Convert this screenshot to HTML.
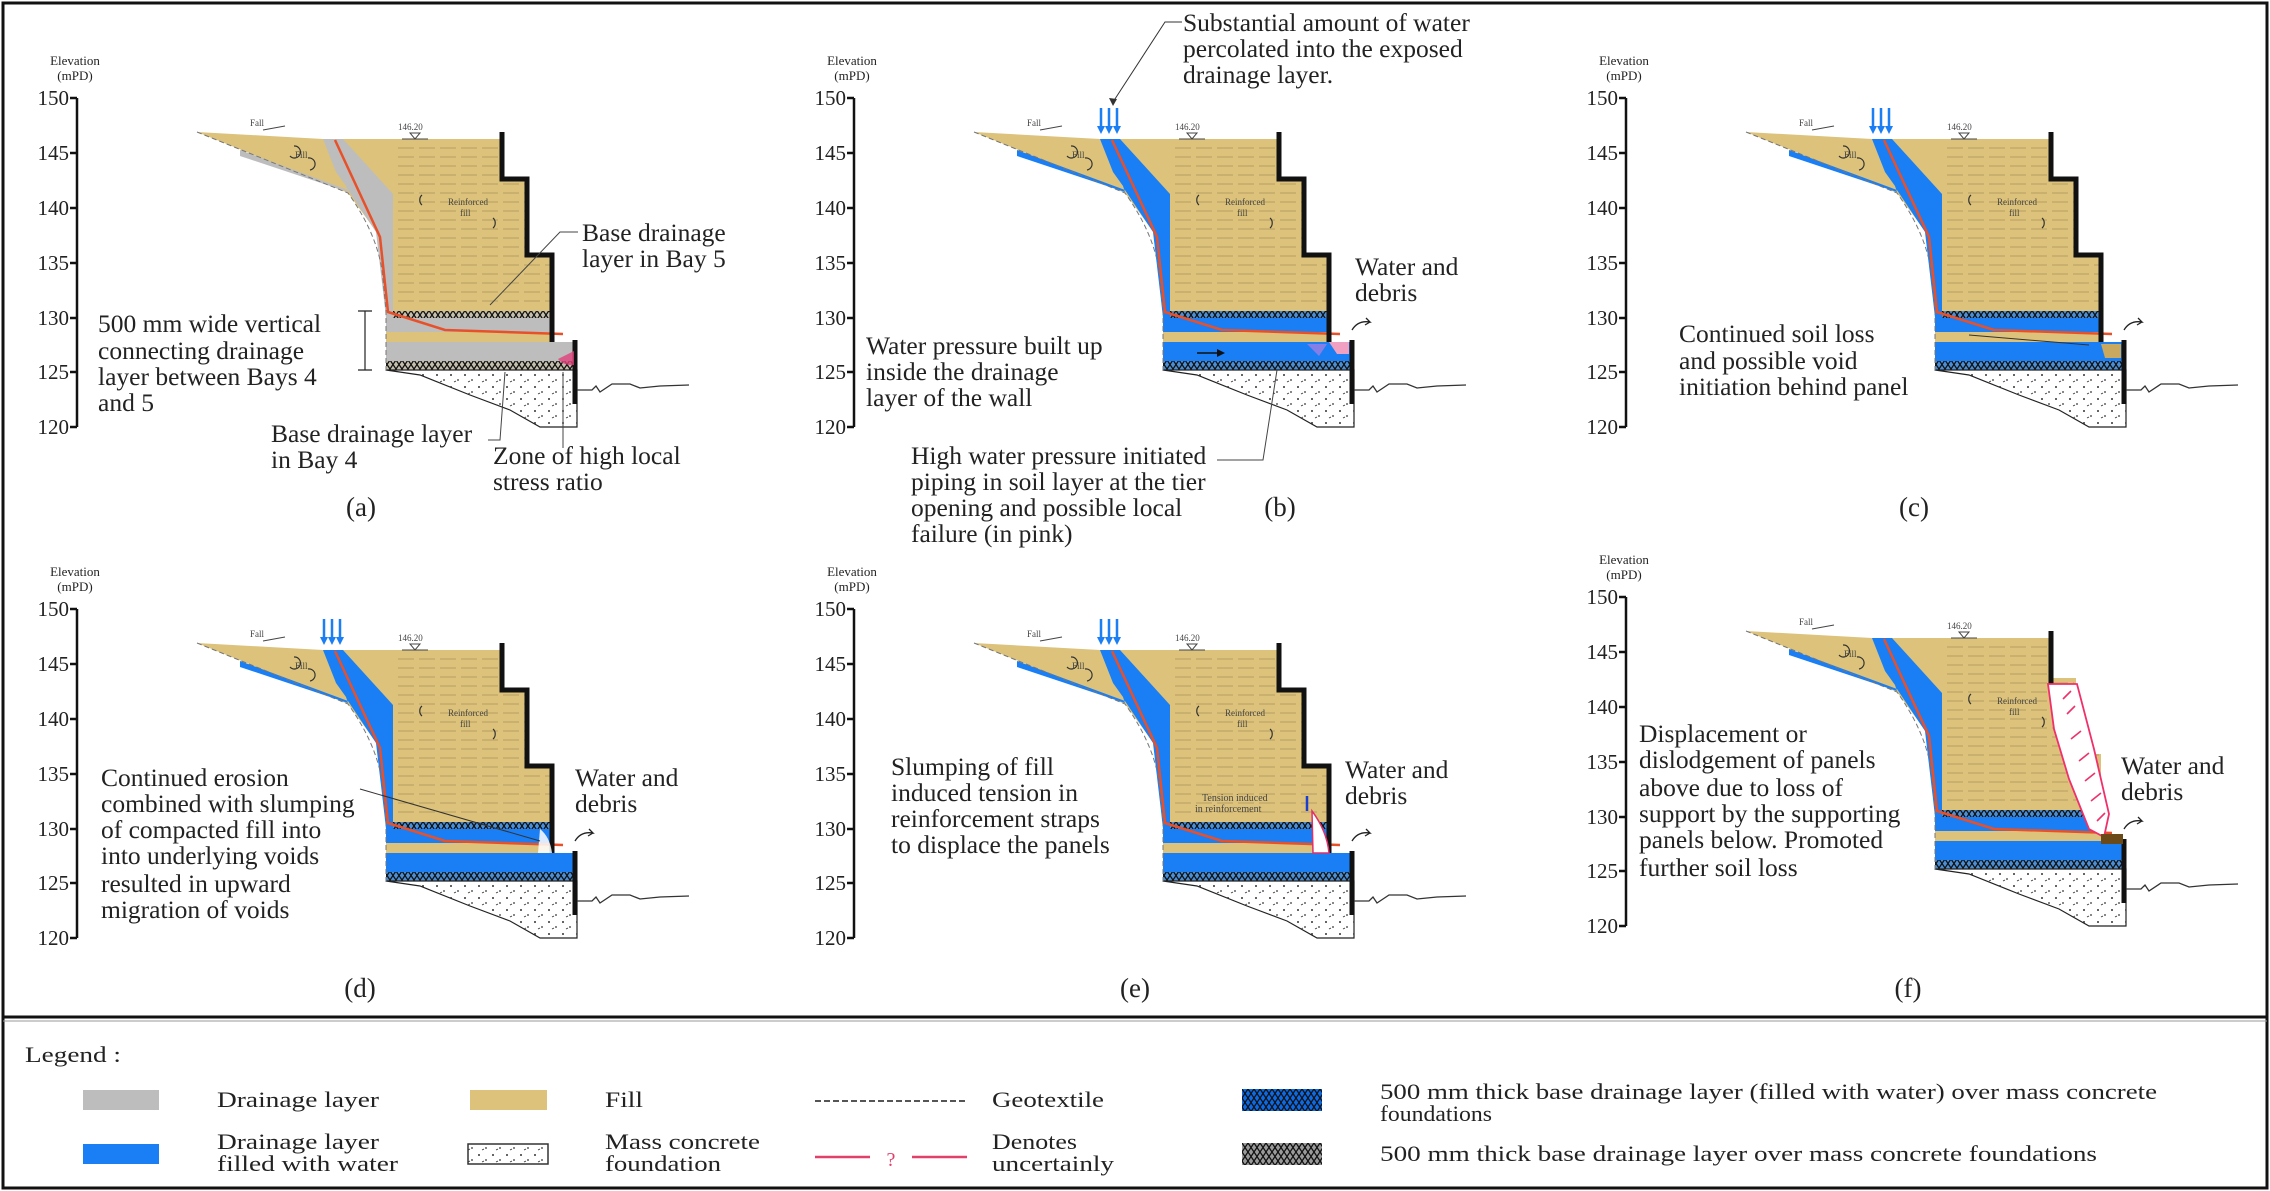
<!DOCTYPE html>
<html><head><meta charset="utf-8"><style>
html,body{margin:0;padding:0;background:#fff}
svg{display:block}
text{font-family:"Liberation Serif",serif;fill:#222}
.an{font-size:25.5px}
.tk{font-size:21px;text-anchor:end}
.el{font-size:13px;text-anchor:middle}
.sm{font-size:9px;fill:#444}
.pl{font-size:27px;text-anchor:middle}
.lg{font-size:22px}
</style></head><body>
<svg width="2270" height="1191" viewBox="0 0 2270 1191" xmlns="http://www.w3.org/2000/svg">
<defs>
<pattern id="hx" width="12" height="9" patternUnits="userSpaceOnUse">
<path d="M0,0 L6,9 L12,0 M0,9 L6,0 L12,9" stroke="#111" stroke-width="1.3" fill="none"/>
</pattern>
<pattern id="dots" width="14" height="12" patternUnits="userSpaceOnUse">
<circle cx="3" cy="3" r="1" fill="#333"/><circle cx="10" cy="8" r="0.9" fill="#333"/><path d="M6,10 l2,-1" stroke="#333" stroke-width="0.8"/>
</pattern>
<g id="base">
<polygon points="197,132 323,139 502,139 502,179 527,179 527,255 552,255 552,342 575,342 575,370 386,370 386,310 378,234 348,193" fill="#dcc27a"/>
<polygon points="240,150 348,190 376,232 384,300 386,318 393,318 393,194 343,139 323,139 336,172 346,186 348,192 240,156" fill="currentColor"/>
<rect x="386" y="318" width="166" height="14" fill="currentColor"/>
<rect x="386" y="342" width="189" height="19" fill="currentColor"/>
<rect x="393" y="311" width="159" height="7" fill="currentColor" opacity="0.75"/>
<rect x="393" y="311" width="159" height="7" fill="url(#hx)"/>
<rect x="386" y="361" width="189" height="9" fill="currentColor" opacity="0.75"/>
<rect x="386" y="361" width="189" height="9" fill="url(#hx)"/>
<polygon points="386,370 420,375 470,395 510,410 540,427 577,427 577,370" fill="#fff" stroke="#222" stroke-width="1.2"/>
<polygon points="386,370 420,375 470,395 510,410 540,427 577,427 577,370" fill="url(#dots)"/>
<g stroke="#a89058" stroke-width="1" stroke-dasharray="16 5" opacity="0.7">
<path d="M398,148H500M398,157H500M398,166H500M398,175H500M398,184H525M398,193H525M398,202H525M398,211H525M398,220H525M398,229H525M398,238H525M398,247H525M398,256H550M398,265H550M398,274H550M398,283H550M398,292H550M398,301H550"/>
</g>
<path d="M197,132 L348,193 Q376,232 382,270 L386,310 V372" fill="none" stroke="#777" stroke-width="1" stroke-dasharray="5 3"/>
<path d="M335,140 L380,237 L388,312 L445,330 L563,334" fill="none" stroke="#e8502a" stroke-width="2.5"/>
<path d="M575,340 V404" stroke="#111" stroke-width="5"/>
<path d="M577,390 L592,390 L596,386 L600,392 L612,384 L630,384 L640,388 L660,386 L689,385" fill="none" stroke="#333" stroke-width="1.3"/>
<path d="M77,98 V427 M70,98H77 M70,153H77 M70,208H77 M70,263H77 M70,318H77 M70,372H77 M70,427H77" stroke="#111" stroke-width="2.5" fill="none"/>
<path d="M263,130 L285,126" stroke="#444" stroke-width="1"/>
<path d="M402,139 H428 M410,133 L420,133 L415,139Z" stroke="#444" stroke-width="1" fill="none"/>
<path d="M290,156 a6,6 0 1,0 4,-10 M310,170 a5,5 0 0,0 -2,-12" stroke="#333" fill="none" stroke-width="1.2"/>
<path d="M422,195 a5,6 0 0,0 0,10 M493,218 a5,6 0 0,1 0,10" stroke="#333" fill="none" stroke-width="1.2"/>
</g>
<g id="tx">
<text class="el" x="75" y="65">Elevation</text><text class="el" x="75" y="80">(mPD)</text>
<text class="tk" x="69" y="105">150</text><text class="tk" x="69" y="160">145</text><text class="tk" x="69" y="215">140</text><text class="tk" x="69" y="270">135</text><text class="tk" x="69" y="325">130</text><text class="tk" x="69" y="379">125</text><text class="tk" x="69" y="434">120</text>
<text class="sm" x="250" y="126">Fall</text><text class="sm" x="398" y="130">146.20</text>
<text class="sm" x="295" y="158">Fill</text>
<text class="sm" x="448" y="205">Reinforced</text><text class="sm" x="460" y="216">fill</text>
</g>
<path id="wall" d="M502,132 V179 H527 V255 H552 V342" stroke="#111" stroke-width="5" fill="none"/>
<g id="arr" stroke="#1a7ef5" stroke-width="2.5" fill="#1a7ef5">
<path d="M324,108V128 M332,108V128 M340,108V128"/>
<path d="M320,126 L324,134 L328,126Z M328,126 L332,134 L336,126Z M336,126 L340,134 L344,126Z" stroke="none"/>
</g>
<path id="wd" d="M575,330 q6,-10 18,-8 l-4,-4 M593,322 l-5,3" stroke="#222" stroke-width="1.3" fill="none"/>
</defs>

<rect x="3" y="3" width="2264" height="1185" fill="none" stroke="#111" stroke-width="3"/>
<line x1="3" y1="1017" x2="2267" y2="1017" stroke="#111" stroke-width="3"/>
<line x1="3" y1="1021" x2="2267" y2="1021" stroke="#999" stroke-width="1"/>

<!-- (a) -->
<g>
<use href="#base" color="#bdbdbd"/><use href="#tx"/><use href="#wall"/>
<path d="M558,359 a16,12 0 0,0 16,6 v-14 z" fill="#e0407a" opacity="0.8"/>
<path d="M365,311V370 M358,311H372 M358,370H372" stroke="#222" stroke-width="1.2"/>
<path d="M578,232 L560,232 L490,305 M488,440 L500,440 L505,372 M563,448 L563,372" stroke="#444" stroke-width="1" fill="none"/>
<text class="an" x="582" y="241">Base drainage</text><text class="an" x="582" y="267">layer in Bay 5</text>
<text class="an" x="98" y="332">500 mm wide vertical</text><text class="an" x="98" y="359">connecting drainage</text><text class="an" x="98" y="385">layer between Bays 4</text><text class="an" x="98" y="411">and 5</text>
<text class="an" x="271" y="442">Base drainage layer</text><text class="an" x="271" y="468">in Bay 4</text>
<text class="an" x="493" y="464">Zone of high local</text><text class="an" x="493" y="490">stress ratio</text>
<text class="pl" x="361" y="516">(a)</text>
</g>

<!-- (b) -->
<g transform="translate(777,0)">
<use href="#base" color="#1a7ef5"/><use href="#tx"/><use href="#wall"/><use href="#arr"/>
<path d="M552,342 h20 v12 h-12 z" fill="#f0a0c0"/>
<path d="M530,344 l20,0 l-8,12 z" fill="#b080e0" opacity="0.7"/>
<use href="#wd"/>
<path d="M405,22 H388 L336,102" stroke="#333" stroke-width="1" fill="none"/><path d="M332,98 L336,106 L340,99Z" fill="#333"/>
<path d="M420,353 H440" stroke="#111" stroke-width="1.5"/><path d="M440,349 L448,353 L440,357Z" fill="#111"/>
<path d="M440,460 H486 L500,370" stroke="#444" stroke-width="1" fill="none"/>
<text class="an" x="406" y="31">Substantial amount of water</text><text class="an" x="406" y="57">percolated into the exposed</text><text class="an" x="406" y="83">drainage layer.</text>
<text class="an" x="578" y="275">Water and</text><text class="an" x="578" y="301">debris</text>
<text class="an" x="89" y="354">Water pressure built up</text><text class="an" x="89" y="380">inside the drainage</text><text class="an" x="89" y="406">layer of the wall</text>
<text class="an" x="134" y="464">High water pressure initiated</text><text class="an" x="134" y="490">piping in soil layer at the tier</text><text class="an" x="134" y="516">opening and possible local</text><text class="an" x="134" y="542">failure (in pink)</text>
<text class="pl" x="503" y="516">(b)</text>
</g>

<!-- (c) -->
<g transform="translate(1549,0)">
<use href="#base" color="#1a7ef5"/><use href="#tx"/><use href="#wall"/><use href="#arr"/>
<use href="#wd"/>
<path d="M552,344 h20 v14 h-16 z" fill="#c9a860"/>
<path d="M420,335 L540,345" stroke="#333" stroke-width="1"/>
<text class="an" x="130" y="342">Continued soil loss</text><text class="an" x="130" y="369">and possible void</text><text class="an" x="130" y="395">initiation behind panel</text>
<text class="pl" x="365" y="516">(c)</text>
</g>

<!-- (d) -->
<g transform="translate(0,511)">
<use href="#base" color="#1a7ef5"/><use href="#tx"/><use href="#wall"/><use href="#arr"/>
<use href="#wd"/>
<path d="M540,318 q10,8 12,24 h-14 z" fill="#fff" opacity="0.85"/>
<path d="M360,278 L540,330" stroke="#333" stroke-width="1"/>
<text class="an" x="101" y="275">Continued erosion</text><text class="an" x="101" y="301">combined with slumping</text><text class="an" x="101" y="327">of compacted fill into</text><text class="an" x="101" y="353">into underlying voids</text><text class="an" x="101" y="381">resulted in upward</text><text class="an" x="101" y="407">migration of voids</text>
<text class="an" x="575" y="275">Water and</text><text class="an" x="575" y="301">debris</text>
<text class="pl" x="360" y="486">(d)</text>
</g>

<!-- (e) -->
<g transform="translate(777,511)">
<use href="#base" color="#1a7ef5"/><use href="#tx"/><use href="#wall"/><use href="#arr"/>
<use href="#wd"/>
<path d="M535,300 q15,20 17,42 h-16 z" fill="#fff" stroke="#e0306a" stroke-width="1.5"/>
<path d="M530,285 V300" stroke="#1a3fd0" stroke-width="2.5"/>
<text class="sm" x="425" y="290" style="font-size:10px">Tension induced</text><text class="sm" x="418" y="301" style="font-size:10px">in reinforcement</text>
<text class="an" x="114" y="264">Slumping of fill</text><text class="an" x="114" y="290">induced tension in</text><text class="an" x="114" y="316">reinforcement straps</text><text class="an" x="114" y="342">to displace the panels</text>
<text class="an" x="568" y="267">Water and</text><text class="an" x="568" y="293">debris</text>
<text class="pl" x="358" y="486">(e)</text>
</g>

<!-- (f) -->
<g transform="translate(1549,499)">
<use href="#base" color="#1a7ef5"/><use href="#tx"/>
<path d="M502,132 V185" stroke="#111" stroke-width="5"/>
<polygon points="499,185 528,185 545,250 560,315 555,338 540,330 520,280 505,230" fill="#fff" stroke="#f0306a" stroke-width="1.8"/>
<path d="M514,200 l8,-8 M518,215 l8,-8 M522,240 l10,-8 M530,262 l10,-8 M536,282 l10,-8 M542,302 l10,-8 M548,322 l8,-8" stroke="#f0306a" stroke-width="1.6"/>
<path d="M552,335 h22 v10 h-22 z" fill="#6b4a1a"/>
<use href="#wd"/>
<text class="an" x="90" y="243">Displacement or</text><text class="an" x="90" y="269">dislodgement of panels</text><text class="an" x="90" y="297">above due to loss of</text><text class="an" x="90" y="323">support by the supporting</text><text class="an" x="90" y="349">panels below. Promoted</text><text class="an" x="90" y="377">further soil loss</text>
<text class="an" x="572" y="275">Water and</text><text class="an" x="572" y="301">debris</text>
<text class="pl" x="359" y="498">(f)</text>
</g>

<!-- Legend -->
<text class="lg" x="25" y="1062" textLength="96" lengthAdjust="spacingAndGlyphs">Legend :</text>
<rect x="83" y="1090" width="76" height="20" fill="#bdbdbd"/>
<text class="lg" x="217" y="1107" textLength="162" lengthAdjust="spacingAndGlyphs">Drainage layer</text>
<rect x="470" y="1090" width="77" height="20" fill="#dcc27a"/>
<text class="lg" x="605" y="1107" textLength="38" lengthAdjust="spacingAndGlyphs">Fill</text>
<line x1="815" y1="1101" x2="967" y2="1101" stroke="#555" stroke-width="2" stroke-dasharray="6 3"/>
<text class="lg" x="992" y="1107" textLength="112" lengthAdjust="spacingAndGlyphs">Geotextile</text>
<rect x="1242" y="1089" width="80" height="22" fill="#0a6ae8"/><rect x="1242" y="1089" width="80" height="22" fill="url(#hx)"/>
<text class="lg" x="1380" y="1099" textLength="777" lengthAdjust="spacingAndGlyphs">500 mm thick base drainage layer (filled with water) over mass concrete</text>
<text class="lg" x="1380" y="1121" textLength="112" lengthAdjust="spacingAndGlyphs">foundations</text>
<rect x="83" y="1144" width="76" height="20" fill="#1a7ef5"/>
<text class="lg" x="217" y="1149" textLength="162" lengthAdjust="spacingAndGlyphs">Drainage layer</text><text class="lg" x="217" y="1171" textLength="181" lengthAdjust="spacingAndGlyphs">filled with water</text>
<rect x="468" y="1144" width="80" height="20" fill="#fff" stroke="#333" stroke-width="1.5"/><rect x="468" y="1144" width="80" height="20" fill="url(#dots)"/>
<text class="lg" x="605" y="1149" textLength="155" lengthAdjust="spacingAndGlyphs">Mass concrete</text><text class="lg" x="605" y="1171" textLength="116" lengthAdjust="spacingAndGlyphs">foundation</text>
<path d="M815,1157 H870 M912,1157 H967" stroke="#e0406a" stroke-width="2.5"/>
<text x="891" y="1166" style="font-size:20px;fill:#e0406a;text-anchor:middle">?</text>
<text class="lg" x="992" y="1149" textLength="85" lengthAdjust="spacingAndGlyphs">Denotes</text><text class="lg" x="992" y="1171" textLength="122" lengthAdjust="spacingAndGlyphs">uncertainly</text>
<rect x="1242" y="1143" width="80" height="22" fill="#9a9a9a"/><rect x="1242" y="1143" width="80" height="22" fill="url(#hx)"/>
<text class="lg" x="1380" y="1161" textLength="717" lengthAdjust="spacingAndGlyphs">500 mm thick base drainage layer over mass concrete foundations</text>
</svg>
</body></html>
